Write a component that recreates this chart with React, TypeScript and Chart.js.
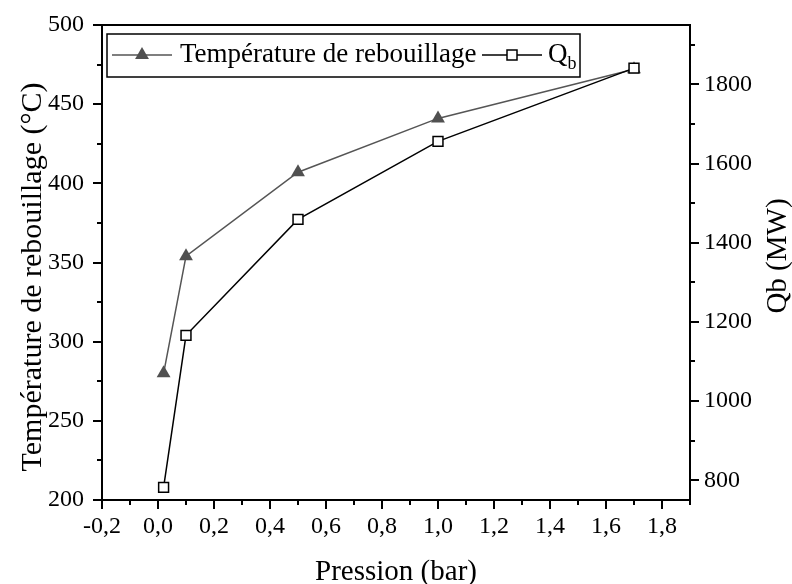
import React, { useEffect, useRef } from 'react';
import { Chart, registerables } from 'chart.js';

Chart.register(...registerables);

const pression = [0.02, 0.1, 0.5, 1.0, 1.7];
const temperature = [280, 354, 407, 441, 472];
const qb = [782, 1166, 1459, 1656, 1841];

const xTicks = [-0.2, 0, 0.2, 0.4, 0.6, 0.8, 1.0, 1.2, 1.4, 1.6, 1.8];
const xMinor = [-0.1, 0.1, 0.3, 0.5, 0.7, 0.9, 1.1, 1.3, 1.5, 1.7, 1.9];
const yTicks = [200, 250, 300, 350, 400, 450, 500];
const yMinor = [225, 275, 325, 375, 425, 475];
const y1Ticks = [800, 1000, 1200, 1400, 1600, 1800];
const y1Minor = [900, 1100, 1300, 1500, 1700, 1900];

const FONT = "'Liberation Serif', 'Times New Roman', serif";
const TEMP_COLOR = '#555555';
const TEMP_FILL = '#505050';

const decorPlugin = {
  id: 'decor',
  afterDraw(chart: any) {
    const { ctx, chartArea, scales } = chart;
    const { left, right, top, bottom } = chartArea;
    ctx.save();
    // top frame
    ctx.strokeStyle = '#000';
    ctx.lineWidth = 2;
    ctx.beginPath();
    ctx.moveTo(left - 1, top);
    ctx.lineTo(right + 1, top);
    ctx.stroke();
    // minor ticks
    ctx.lineWidth = 2;
    ctx.beginPath();
    xMinor.forEach((v) => {
      const p = Math.round(scales.x.getPixelForValue(v));
      ctx.moveTo(p, bottom);
      ctx.lineTo(p, bottom + 5);
    });
    yMinor.forEach((v) => {
      const p = Math.round(scales.y.getPixelForValue(v));
      ctx.moveTo(left, p);
      ctx.lineTo(left - 5, p);
    });
    y1Minor.forEach((v) => {
      const p = Math.round(scales.y1.getPixelForValue(v));
      ctx.moveTo(right, p);
      ctx.lineTo(right + 5, p);
    });
    ctx.stroke();

    // axis titles
    ctx.fillStyle = '#000';
    ctx.font = `29px ${FONT}`;
    ctx.textAlign = 'center';
    ctx.textBaseline = 'alphabetic';
    ctx.fillText('Pression (bar)', (left + right) / 2, 580);

    ctx.save();
    ctx.font = `30px ${FONT}`;
    ctx.translate(41, 277);
    ctx.rotate(-Math.PI / 2);
    ctx.fillText('Température de rebouillage (°C)', 0, 0);
    ctx.restore();

    ctx.save();
    ctx.translate(786, 256);
    ctx.rotate(-Math.PI / 2);
    ctx.fillText('Qb (MW)', 0, 0);
    ctx.restore();

    // legend
    const lx = 107, ly = 34, lw = 473, lh = 43;
    ctx.fillStyle = '#fff';
    ctx.fillRect(lx, ly, lw, lh);
    ctx.strokeStyle = '#000';
    ctx.lineWidth = 1.5;
    ctx.strokeRect(lx, ly, lw, lh);
    const cy = 55;
    // temperature sample
    ctx.strokeStyle = TEMP_COLOR;
    ctx.lineWidth = 1.5;
    ctx.beginPath();
    ctx.moveTo(112, cy);
    ctx.lineTo(172, cy);
    ctx.stroke();
    const r = 8;
    ctx.fillStyle = TEMP_FILL;
    ctx.beginPath();
    for (let i = 0; i < 3; i++) {
      const a = (i * 2 * Math.PI) / 3;
      const px = 142 + Math.sin(a) * r;
      const py = cy - Math.cos(a) * r;
      if (i === 0) ctx.moveTo(px, py);
      else ctx.lineTo(px, py);
    }
    ctx.closePath();
    ctx.fill();
    ctx.fillStyle = '#000';
    ctx.textAlign = 'left';
    ctx.font = `27px ${FONT}`;
    ctx.fillText('Température de rebouillage', 180, 62);
    // Qb sample
    ctx.strokeStyle = '#000';
    ctx.beginPath();
    ctx.moveTo(482, cy);
    ctx.lineTo(542, cy);
    ctx.stroke();
    ctx.fillStyle = '#fff';
    ctx.fillRect(507, cy - 5, 10, 10);
    ctx.strokeRect(507, cy - 5, 10, 10);
    ctx.fillStyle = '#000';
    ctx.fillText('Q', 548, 62);
    const qw = ctx.measureText('Q').width;
    ctx.font = `18px ${FONT}`;
    ctx.fillText('b', 548 + qw, 69);
    ctx.restore();
  },
};

export default function App() {
  const ref = useRef<HTMLCanvasElement | null>(null);
  useEffect(() => {
    if (!ref.current) return;
    const tickFont = { family: FONT, size: 24 };
    const chart = new Chart(ref.current, {
      type: 'line',
      data: {
        datasets: [
          {
            label: 'Température de rebouillage',
            data: pression.map((x, i) => ({ x, y: temperature[i] })),
            yAxisID: 'y',
            borderColor: TEMP_COLOR,
            borderWidth: 1.5,
            backgroundColor: TEMP_FILL,
            pointStyle: 'triangle',
            pointRadius: 8,
            pointBorderWidth: 0,
            pointBackgroundColor: TEMP_FILL,
            pointBorderColor: TEMP_FILL,
            order: 2,
          },
          {
            label: 'Qb',
            data: pression.map((x, i) => ({ x, y: qb[i] })),
            yAxisID: 'y1',
            borderColor: '#000',
            borderWidth: 1.5,
            pointStyle: 'rect',
            pointRadius: 7,
            pointBorderWidth: 1.5,
            pointBackgroundColor: '#fff',
            pointBorderColor: '#000',
            order: 1,
          },
        ],
      },
      options: {
        animation: false,
        responsive: false,
        devicePixelRatio: 1,
        layout: { padding: { top: 25, left: 0, right: 0, bottom: 0 } },
        plugins: { legend: { display: false }, tooltip: { enabled: false } },
        scales: {
          x: {
            type: 'linear',
            position: 'bottom',
            min: -0.2,
            max: 1.9,
            afterBuildTicks: (s: any) => {
              s.ticks = xTicks.map((v) => ({ value: v }));
            },
            afterFit: (s: any) => {
              s.height = 84;
            },
            ticks: {
              callback: (v: any) => Number(v).toFixed(1).replace('.', ','),
              font: tickFont,
              color: '#000',
              padding: 3,
              maxRotation: 0,
              autoSkip: false,
            },
            grid: { drawOnChartArea: false, tickLength: 9, lineWidth: 2, tickWidth: 2, color: '#000' },
            border: { color: '#000', width: 2 },
          },
          y: {
            type: 'linear',
            position: 'left',
            min: 200,
            max: 500,
            afterBuildTicks: (s: any) => {
              s.ticks = yTicks.map((v) => ({ value: v }));
            },
            afterFit: (s: any) => {
              s.width = 102;
            },
            ticks: { callback: (v: any) => String(v), font: tickFont, color: '#000', padding: 9, autoSkip: false },
            grid: { drawOnChartArea: false, tickLength: 9, lineWidth: 2, tickWidth: 2, color: '#000' },
            border: { color: '#000', width: 2 },
          },
          y1: {
            type: 'linear',
            position: 'right',
            min: 750,
            max: 1950,
            afterBuildTicks: (s: any) => {
              s.ticks = y1Ticks.map((v) => ({ value: v }));
            },
            afterFit: (s: any) => {
              s.width = 102;
            },
            ticks: { callback: (v: any) => String(v), font: tickFont, color: '#000', padding: 5, autoSkip: false },
            grid: { drawOnChartArea: false, tickLength: 9, lineWidth: 2, tickWidth: 2, color: '#000' },
            border: { color: '#000', width: 2 },
          },
        },
      },
      plugins: [decorPlugin],
    } as any);
    return () => chart.destroy();
  }, []);
  return (
    <div style={{ position: 'absolute', left: 0, top: 0, width: 792, height: 584, background: '#fff' }}>
      <canvas ref={ref} width={792} height={584} style={{ display: 'block' }} />
    </div>
  );
}
